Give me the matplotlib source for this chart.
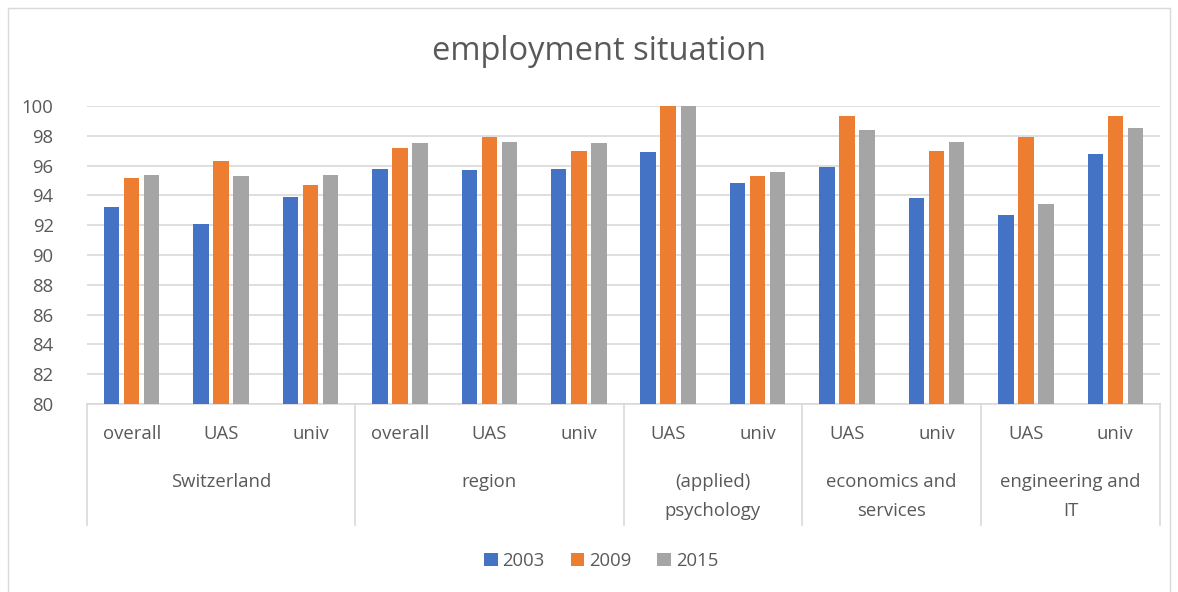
"""
Grouped bar chart of the employment situation by field and school type.
"""

import matplotlib.pyplot as plt
from matplotlib.patches import Rectangle, Patch
import numpy as np

plt.rcParams["font.family"] = ["Open Sans", "DejaVu Sans"]

# Data
sub_labels = ["overall", "UAS", "univ", "overall", "UAS", "univ",
              "UAS", "univ", "UAS", "univ", "UAS", "univ"]
group_labels = ["Switzerland", "region", "(applied)\npsychology",
                "economics and\nservices", "engineering and\nIT"]
group_sizes = [3, 3, 2, 2, 2]
years = ["2003", "2009", "2015"]
values_2003 = [93.2, 92.1, 93.9, 95.8, 95.7, 95.8, 96.9, 94.8, 95.9, 93.8, 92.7, 96.8]
values_2009 = [95.2, 96.3, 94.7, 97.2, 97.9, 97.0, 100.0, 95.3, 99.3, 97.0, 97.9, 99.3]
values_2015 = [95.4, 95.3, 95.4, 97.5, 97.6, 97.5, 100.0, 95.6, 98.4, 97.6, 93.4, 98.5]
colors = ["#4472C4", "#ED7D31", "#A5A5A5"]

TEXT = "#595959"
GRID = "#d9d9d9"
FS = 13.3


def main():
    fig = plt.figure(figsize=(11.78, 5.92), dpi=100)
    ax = fig.add_axes([87 / 1178, 1 - 404 / 592, (1160 - 87) / 1178, 298 / 592])

    x = np.arange(len(sub_labels))
    width = 0.173
    step = 0.224
    series = [values_2003, values_2009, values_2015]
    for i, (vals, col) in enumerate(zip(series, colors)):
        ax.bar(x + (i - 1) * step, np.array(vals) - 80, bottom=80, width=width,
               color=col, zorder=3)

    ax.set_xlim(-0.5, len(sub_labels) - 0.5)
    ax.set_ylim(80, 100)
    ax.set_yticks(np.arange(80, 101, 2))
    ax.tick_params(axis="y", length=0, labelsize=FS, colors=TEXT, pad=24)
    ax.set_xticks([])
    ax.grid(axis="y", color=GRID, linewidth=1.2, zorder=0)
    for side in ["top", "right", "left"]:
        ax.spines[side].set_visible(False)
    ax.spines["bottom"].set_color(GRID)
    ax.spines["bottom"].set_linewidth(1.2)

    # Multi-level category axis
    trans = ax.get_xaxis_transform()
    for xi, lab in zip(x, sub_labels):
        ax.text(xi, -30 / 298, lab, transform=trans, ha="center", va="center",
                fontsize=FS, color=TEXT)
    start = 0
    bounds = [-0.5]
    for lab, size in zip(group_labels, group_sizes):
        center = start + (size - 1) / 2
        ax.text(center, -69 / 298, lab, transform=trans, ha="center", va="top",
                fontsize=FS, color=TEXT, linespacing=1.8)
        start += size
        bounds.append(start - 0.5)
    for b in bounds:
        ax.plot([b, b], [0, -121 / 298], transform=trans, color=GRID,
                linewidth=1.2, clip_on=False)

    fig.text(599 / 1178, 1 - 51 / 592, "employment situation", ha="center",
             va="center", fontsize=23.5, color=TEXT)

    handles = [Patch(facecolor=c, label=y) for c, y in zip(colors, years)]
    fig.legend(handles=handles, loc="center", bbox_to_anchor=(601 / 1178, 1 - 561 / 592),
               ncol=3, frameon=False, fontsize=FS, labelcolor=TEXT,
               handlelength=0.75, handleheight=0.75, handletextpad=0.25,
               columnspacing=1.4)

    fig.patches.append(Rectangle((8 / 1178, -0.05), (1170 - 8) / 1178, 1.05 - 8 / 592,
                                 transform=fig.transFigure, fill=False,
                                 edgecolor=GRID, linewidth=1))

    fig.savefig("out.png", dpi=100)
    plt.close(fig)


if __name__ == "__main__":
    main()
